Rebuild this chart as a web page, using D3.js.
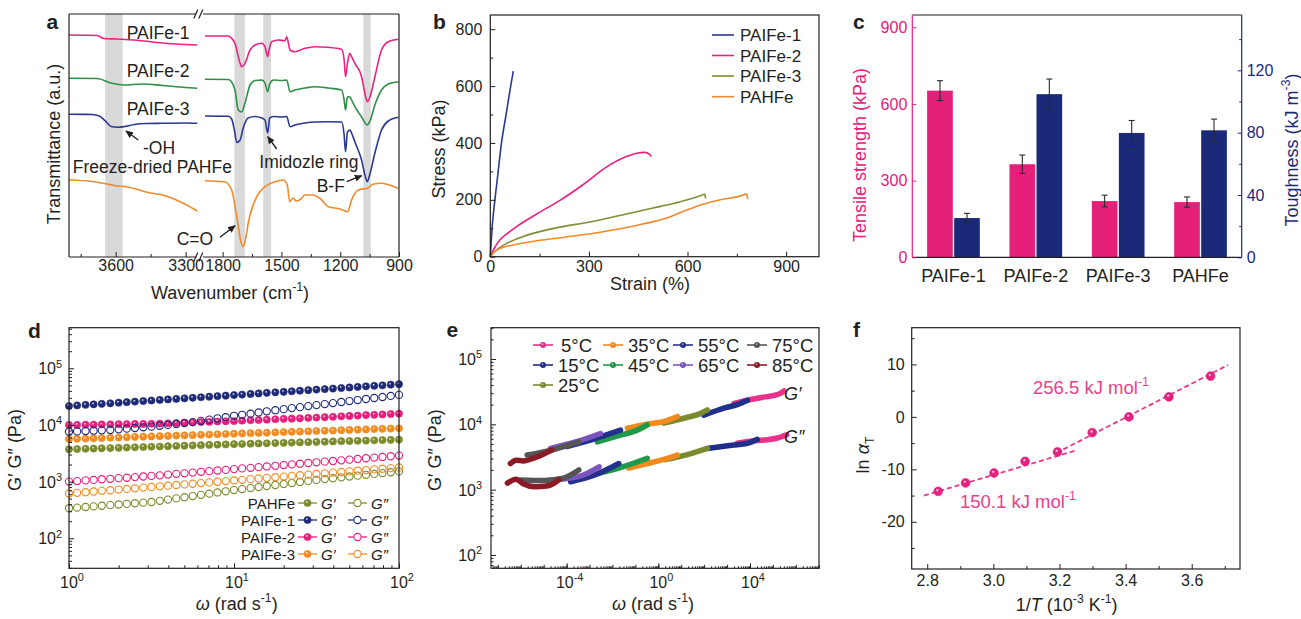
<!DOCTYPE html>
<html>
<head>
<meta charset="utf-8">
<script src="https://cdn.jsdelivr.net/npm/d3@7/dist/d3.min.js"></script>
<style>
  html, body { margin: 0; padding: 0; background: #fff; }
  svg { display: block; font-family: "Liberation Sans", Arial, Helvetica, sans-serif; }
</style>
</head>
<body>
<svg id="fig" width="1301" height="619"></svg>
<script>
// ================= data =================

// (a) FTIR spectra, [wavenumber (cm^-1), transmittance (a.u.)]
const irBands = [[3645, 3570], [1740, 1686], [1593, 1553], [1082, 1044]];
const irPAIFe1Hi = [[3800,222],[3680,221.5],[3650,218.5],[3600,218],[3500,216.5],[3400,214],[3300,212.5],[3250,212]];
const irPAIFe1Lo = [[1890,221],[1771,221],[1754,218.7],[1737,213.7],[1711,193.7],[1703,190.3],[1686,193.7],[1660,207],[1635,212],[1601,213.7],[1584,210.3],[1570,200.3],[1563,207],[1550,215.3],[1516,217],[1482,216.3],[1473,220.3],[1456,207],[1431,205.3],[1380,208.7],[1329,210.3],[1261,209.7],[1193,207.7],[1180,197],[1173,180.3],[1163,193.7],[1151,203.7],[1142,200.3],[1125,193.7],[1091,180.3],[1074,163.7],[1062,155.3],[1048,160.3],[1023,180.3],[989,207],[955,215.3],[904,217.7]];
const irPAIFe2Hi = [[3800,178.7],[3680,178.5],[3620,174],[3570,172],[3480,173],[3400,171.5],[3300,169.5],[3250,168.7]];
const irPAIFe2Lo = [[1890,177.7],[1771,177.5],[1754,175],[1737,167],[1720,147],[1703,145],[1686,154],[1660,172],[1635,176.5],[1600,177],[1584,174],[1570,165.3],[1560,173],[1540,177],[1500,176.5],[1473,177],[1456,165.3],[1431,167],[1380,169],[1330,170.3],[1261,169],[1193,167],[1180,157],[1173,147],[1163,160.3],[1150,160],[1142,157],[1125,150.3],[1091,140],[1062,132],[1048,136],[1023,152],[989,167],[955,173],[904,175.3]];
const irPAIFe3Hi = [[3800,142.7],[3700,142.5],[3670,141],[3640,135],[3620,130.5],[3590,129.7],[3560,130.5],[3520,132.5],[3470,133.5],[3400,133.7],[3300,134],[3250,133.7]];
const irPAIFe3Lo = [[1890,141],[1771,140.7],[1754,138],[1740,127],[1728,114.5],[1711,117],[1695,129],[1670,139],[1635,140.5],[1600,139],[1584,137],[1570,124],[1560,139],[1540,140.5],[1500,140],[1473,140.5],[1456,130.3],[1431,132],[1380,134],[1330,135],[1261,135.3],[1193,135],[1180,122],[1173,105.3],[1163,125],[1150,127],[1142,124],[1125,115],[1091,97],[1070,79],[1062,75.3],[1050,82],[1023,104],[989,127],[955,136],[904,139.7]];
const irPAHFeHi = [[3800,77],[3700,75.5],[3650,73.5],[3600,71.3],[3550,70],[3450,64],[3400,62],[3330,56],[3250,46]];
const irPAHFeLo = [[1890,76.3],[1790,75.3],[1754,67],[1728,40.3],[1705,14],[1695,10.5],[1680,21],[1669,34],[1626,60.3],[1584,70.3],[1533,75.3],[1490,77],[1470,72],[1458,55.3],[1440,59],[1425,56],[1400,58],[1380,62],[1340,62],[1300,58],[1261,50.3],[1200,48],[1162,45.3],[1142,57],[1108,67],[1062,68.7],[1030,73],[989,73.7],[950,72],[904,68.7]];

// (b) stress-strain curves, [strain (%), stress (kPa)]
const ssPAIFe1 = [[0,0],[2,40],[6,110],[14,200],[24,300],[34,400],[48,500],[62,600],[70,653]];
const ssPAIFe2 = [[0,0],[10,25],[29,59],[50,80],[80,106],[141,150],[212,198],[282,253],[353,315],[414,352],[445,364],[470,367],[485,360],[490,352]];
const ssPAIFe3 = [[0,0],[15,20],[50,47],[110,75],[212,104],[303,122],[394,145],[495,171],[560,188],[600,200],[645,217],[652,220],[655,205]];
const ssPAHFe  = [[0,0],[10,15],[29,29],[70,41],[141,56],[242,71],[343,88],[444,110],[546,140],[600,165],[650,185],[700,200],[760,213],[780,220],[783,202]];

// (c) tensile strength (kPa) and toughness (kJ m^-3)
const cCategories = ["PAIFe-1", "PAIFe-2", "PAIFe-3", "PAHFe"];
const cStrength = [652, 364, 220, 216];
const cStrengthErr = [39, 36, 23, 20];
const cToughness = [25.2, 104.7, 79.8, 81.5];
const cToughnessErr = [3, 9.7, 8, 7.2];

// (d) frequency sweeps, omega (rad/s) and moduli (Pa)
const dOmega = [1, 1.12, 1.26, 1.41, 1.58, 1.78, 2.00, 2.24, 2.51, 2.82, 3.16, 3.55, 3.98, 4.47, 5.01, 5.62, 6.31, 7.08, 7.94, 8.91,
  10.0, 11.2, 12.6, 14.1, 15.8, 17.8, 20.0, 22.4, 25.1, 28.2, 31.6, 35.5, 39.8, 44.7, 50.1, 56.2, 63.1, 70.8, 79.4, 89.1, 100];
const dPAHFeGp = [3720,3750,3790,3830,3870,3910,3950,3990,4030,4080,4120,4160,4210,4250,4300,4340,4390,4430,4480,4520,
  4570,4610,4660,4700,4740,4790,4830,4880,4920,4970,5010,5060,5110,5160,5200,5250,5300,5350,5400,5450,5500];
const dPAHFeGpp = [339,348,356,365,375,384,394,404,415,425,436,458,481,505,530,556,583,612,643,674,
  708,738,769,802,836,871,908,946,986,1028,1072,1109,1148,1189,1230,1274,1318,1365,1413,1462,1514];
const dPAIFe1Gp = [21600,22100,22600,23100,23600,24100,24700,25200,25800,26400,27000,27600,28200,28800,29500,30100,30800,31500,32200,32900,
  33700,34400,35200,36000,36800,37600,38400,39300,40200,41100,42000,42900,43900,44900,45900,46900,48000,49000,50100,51300,52400];
const dPAIFe1Gpp = [7590,7690,7800,7910,8020,8130,8360,8590,8830,9080,9330,9680,10000,10400,10800,11200,11800,12400,13100,13700,
  14500,15100,15800,16600,17400,18200,19000,19800,20600,21500,22400,23300,24300,25400,26400,27500,28700,29900,31100,32500,33900];
const dPAIFe2Gp = [10000,10000,10100,10100,10200,10200,10300,10300,10400,10400,10500,10600,10700,10800,11000,11100,11200,11300,11500,11600,
  11700,11900,12100,12200,12400,12600,12800,12900,13100,13300,13500,13700,13900,14200,14400,14600,14900,15100,15300,15600,15800];
const dPAIFe2Gpp = [1000,1020,1050,1070,1100,1120,1150,1170,1200,1230,1260,1290,1330,1370,1400,1440,1490,1530,1570,1610,
  1660,1710,1750,1800,1850,1900,1960,2010,2070,2130,2190,2250,2310,2370,2440,2510,2580,2650,2720,2800,2880];
const dPAIFe3Gp = [5620,5680,5750,5810,5870,5940,6000,6070,6140,6200,6270,6340,6410,6480,6550,6620,6700,6770,6850,6920,
  7000,7080,7150,7230,7310,7390,7480,7560,7640,7730,7810,7900,7980,8070,8160,8250,8340,8440,8530,8620,8710];
const dPAIFe3Gpp = [617,633,650,668,686,704,723,742,762,783,804,825,847,870,893,917,942,967,993,1020,
  1047,1075,1104,1134,1164,1195,1227,1260,1294,1329,1365,1401,1439,1478,1517,1558,1600,1643,1687,1732,1778];

// (e) shifted master curves, [reduced omega (rad/s), modulus (Pa)]
const eTemps = ["5°C", "15°C", "25°C", "35°C", "45°C", "55°C", "65°C", "75°C", "85°C"];
const e5Gp   = [[2.0e3,20900],[7.9e3,23400],[3.2e4,25700],[1.0e5,27500],[2.0e5,29500],[3.0e5,32400]];
const e5Gpp  = [[2.8e3,5130],[1.0e4,5500],[4.0e4,5750],[1.6e5,6170],[4.0e5,6920]];
const e15Gp  = [[98,13800],[794,17800],[3160,20400],[7760,23400]];
const e15Gpp = [[138,4270],[1580,4790],[7940,5130],[2.09e4,5890]];
const e25Gp  = [[1.74,10470],[15.8,12600],[63,14450],[138,16600]];
const e25Gpp = [[2.0,2880],[6.8,3160],[31.6,3630],[138,4270]];
const e35Gp  = [[0.0447,8710],[0.316,10000],[2.0,11200],[6.76,13200]];
const e35Gpp = [[0.05,2140],[0.33,2510],[1.58,2880],[6.76,3390]];
const e45Gp  = [[0.00219,5370],[0.0158,6610],[0.1,7940],[0.33,9770]];
const e45Gpp = [[0.00316,1820],[0.019,2140],[0.33,3020]];
const e55Gp  = [[1.0e-4,4570],[1.1e-3,5750],[0.0224,8130]];
const e55Gpp = [[1.5e-4,1320],[1.6e-3,1660],[0.019,2510]];
const e65Gp  = [[2.0e-5,4270],[2.5e-4,5370],[3.0e-3,7240]];
const e65Gpp = [[2.0e-5,1410],[3.2e-4,1580],[2.6e-3,2240]];
const e75Gp  = [[1.9e-6,3390],[2.5e-5,4070],[3.4e-4,5370]];
const e75Gpp = [[1.0e-6,1410],[1.0e-5,1380],[6.3e-5,1480],[3.4e-4,2000]];
const e85Gp  = [[3.5e-7,2510],[6.3e-7,2820],[1.26e-6,2750],[5.0e-6,3160],[2.3e-5,4070]];
const e85Gpp = [[2.6e-7,1260],[6.3e-7,1440],[1.26e-6,1230],[4.0e-6,1110],[1.6e-5,1150],[4.6e-5,1410]];

// (f) Arrhenius plot of shift factors
const fInvT = [2.833, 2.916, 3.002, 3.096, 3.194, 3.299, 3.410, 3.531, 3.657];
const fLnaT = [-14.2, -12.6, -10.7, -8.47, -6.69, -2.99, 0, 3.82, 7.77];
const fFitLow = [[2.79, -15.0], [3.25, -6.4]];
const fFitHigh = [[3.19, -6.9], [3.71, 9.9]];

// ================= helpers =================
const svg = d3.select("#fig");
const INK = "#231f20";
const defs = svg.append("defs");

function shinyFill(id, color) {
  const g = defs.append("radialGradient").attr("id", id)
    .attr("cx", 0.5).attr("cy", 0.5).attr("r", 0.5).attr("fx", 0.38).attr("fy", 0.32);
  g.append("stop").attr("offset", 0).attr("stop-color", "#ffffff").attr("stop-opacity", 0.95);
  g.append("stop").attr("offset", 0.38).attr("stop-color", color);
  g.append("stop").attr("offset", 1).attr("stop-color", color);
  return `url(#${id})`;
}

defs.append("marker").attr("id", "arrowHead").attr("viewBox", "0 0 10 10")
  .attr("refX", 9).attr("refY", 5).attr("markerWidth", 5.5).attr("markerHeight", 5.5)
  .attr("orient", "auto")
  .append("path").attr("d", "M0,0.5 L10,5 L0,9.5 z").attr("fill", INK);

function rich(sel, parts, size) {
  let shift = 0;
  parts.forEach(p => {
    const [s, st] = typeof p === "string" ? [p, ""] : [p[0], p[1] || ""];
    const ts = sel.append("tspan").text(s);
    let target = 0;
    if (st.includes("^")) { target = -0.42 * size; ts.attr("font-size", (size * 0.68).toFixed(1)); }
    else if (st.includes("_")) { target = 0.28 * size; ts.attr("font-size", (size * 0.68).toFixed(1)); }
    if (st.includes("i")) ts.attr("font-style", "italic");
    if (target !== shift) { ts.attr("dy", (target - shift).toFixed(2)); shift = target; }
  });
  return sel;
}

function label(x, y, parts, o = {}) {
  const size = o.size || 16;
  const t = svg.append("text").attr("x", x).attr("y", y)
    .attr("font-size", size).attr("fill", o.fill || INK)
    .attr("text-anchor", o.anchor || "start");
  if (o.weight) t.attr("font-weight", o.weight);
  if (o.italic) t.attr("font-style", "italic");
  if (o.rotate) t.attr("transform", `rotate(-90 ${x} ${y})`);
  rich(t, typeof parts === "string" ? [parts] : parts, size);
  return t;
}

function axisG(axisFn, scale, values, len, at, o = {}) {
  const gen = axisFn(scale).tickValues(values).tickSize(-len).tickPadding(o.pad ?? 4)
    .tickFormat(o.fmt ? o.fmt : () => "");
  const g = svg.append("g").attr("transform", at).call(gen);
  g.attr("font-size", o.size || 16).attr("font-family", null);
  g.select(".domain").remove();
  g.selectAll(".tick line").attr("stroke", o.tick || INK).attr("stroke-width", 1);
  g.selectAll(".tick text").attr("fill", o.color || INK);
  return g;
}

function frame(x0, y0, x1, y1) {
  svg.append("rect").attr("x", x0).attr("y", y0).attr("width", x1 - x0).attr("height", y1 - y0)
    .attr("fill", "none").attr("stroke", INK).attr("stroke-width", 1.2);
}

function logMinors(lo, hi) {
  const out = [];
  for (let k = Math.floor(Math.log10(lo)); k <= Math.ceil(Math.log10(hi)); k++)
    for (let m = 2; m <= 9; m++) { const v = m * Math.pow(10, k); if (v > lo && v < hi) out.push(v); }
  return out;
}

const hyphenFmt = d => (d < 0 ? "-" + Math.abs(d) : String(d));

// ================= (a) FTIR =================
{
  const x0 = 69, x1 = 399, yT = 14, yB = 257, brk0 = 197.3, brk1 = 205;
  const xHi = d3.scaleLinear().domain([3800, 3250]).range([x0, brk0]);
  const xLo = d3.scaleLinear().domain([1890, 900]).range([brk1, x1]);
  const yA = d3.scaleLinear().domain([0, 243]).range([yB, yT]);

  irBands.forEach(([c0, c1]) => {
    const s = c0 > 3000 ? xHi : xLo;
    svg.append("rect").attr("x", s(c0)).attr("width", s(c1) - s(c0))
      .attr("y", yT).attr("height", yB - yT).attr("fill", "#d9d9d9");
  });

  const spectra = [
    [irPAIFe1Hi, irPAIFe1Lo, "#e8237f"],
    [irPAIFe2Hi, irPAIFe2Lo, "#2f8f46"],
    [irPAIFe3Hi, irPAIFe3Lo, "#2a3990"],
    [irPAHFeHi, irPAHFeLo, "#f08a2e"]
  ];
  const lineFor = sx => d3.line().x(d => sx(d[0])).y(d => yA(d[1])).curve(d3.curveMonotoneX);
  spectra.forEach(([hi, lo, col]) => {
    svg.append("path").attr("d", lineFor(xHi)(hi)).attr("fill", "none").attr("stroke", col).attr("stroke-width", 1.6);
    svg.append("path").attr("d", lineFor(xLo)(lo)).attr("fill", "none").attr("stroke", col).attr("stroke-width", 1.6);
  });

  // broken frame
  const fl = (a, b, c, d) => svg.append("line").attr("x1", a).attr("y1", b).attr("x2", c).attr("y2", d)
    .attr("stroke", INK).attr("stroke-width", 1.2);
  fl(x0, yT, x0, yB); fl(x1, yT, x1, yB);
  fl(x0, yT, brk0 - 1, yT); fl(brk1 - 2, yT, x1, yT);
  fl(x0, yB, brk0 - 1, yB); fl(brk1 - 2, yB, x1, yB);
  [yT, yB].forEach(yy => {
    fl(brk0 - 3.5, yy + 4.5, brk0 + 0.5, yy - 4.5);
    fl(brk0 + 1.5, yy + 4.5, brk0 + 5.5, yy - 4.5);
  });

  axisG(d3.axisBottom, xHi, [3600, 3300], 5, `translate(0,${yB})`, { fmt: d3.format("d"), pad: 3 });
  axisG(d3.axisBottom, xHi, [3750, 3450], 3, `translate(0,${yB})`);
  axisG(d3.axisBottom, xLo, [1800, 1500, 1200, 900], 5, `translate(0,${yB})`, { fmt: d3.format("d"), pad: 3 });
  axisG(d3.axisBottom, xLo, [1650, 1350, 1050], 3, `translate(0,${yB})`);

  const fs = 17.5;
  label(126.7, 38.5, "PAIFe-1", { size: fs });
  label(126.7, 77.3, "PAIFe-2", { size: fs });
  label(126.7, 115, "PAIFe-3", { size: fs });
  label(143, 154, "-OH", { size: fs });
  label(72.7, 173.3, "Freeze-dried PAHFe", { size: fs });
  label(259.3, 168.3, "Imidozle ring", { size: fs });
  label(316.7, 191.7, "B-F", { size: fs });
  label(176.7, 245, "C=O", { size: fs });

  const arrow = (a, b, c, d) => svg.append("line").attr("x1", a).attr("y1", b).attr("x2", c).attr("y2", d)
    .attr("stroke", INK).attr("stroke-width", 1.4).attr("marker-end", "url(#arrowHead)");
  arrow(138.3, 140, 126, 131);
  arrow(276.7, 149, 267.7, 136.7);
  arrow(346.7, 181.7, 361.7, 175.7);
  arrow(220, 237.3, 235, 225.7);

  label(60, 144, "Transmittance (a.u.)", { size: 18, anchor: "middle", rotate: true });
  label(230, 299, ["Wavenumber (cm", ["-1", "^"], ")"], { size: 18, anchor: "middle" });
  label(46.5, 28.5, "a", { size: 21, weight: "bold" });
}

// ================= (b) stress-strain =================
{
  const x0 = 490.3, x1 = 819, yT = 15, yB = 256.7;
  const xB = d3.scaleLinear().domain([0, 1000]).range([x0, x1]);
  const yS = d3.scaleLinear().domain([0, 850]).range([yB, yT]);
  const series = [
    ["PAIFe-1", ssPAIFe1, "#2b3990"],
    ["PAIFe-2", ssPAIFe2, "#e6217f"],
    ["PAIFe-3", ssPAIFe3, "#7f8f35"],
    ["PAHFe", ssPAHFe, "#f0892b"]
  ];
  const line = d3.line().x(d => xB(d[0])).y(d => yS(d[1])).curve(d3.curveMonotoneX);
  series.forEach(([, data, col]) => {
    svg.append("path").attr("d", line(data)).attr("fill", "none").attr("stroke", col)
      .attr("stroke-width", 1.6).attr("stroke-linejoin", "round");
  });
  axisG(d3.axisBottom, xB, [0, 300, 600, 900], 5, `translate(0,${yB})`, { fmt: d3.format("d"), pad: 4 });
  axisG(d3.axisBottom, xB, [150, 450, 750], 3, `translate(0,${yB})`);
  axisG(d3.axisLeft, yS, [0, 200, 400, 600, 800], 5, `translate(${x0},0)`, { fmt: d3.format("d"), pad: 8 });
  axisG(d3.axisLeft, yS, [100, 300, 500, 700], 3, `translate(${x0},0)`);
  frame(x0, yT, x1, yB);

  series.forEach(([name, , col], i) => {
    const y = [35, 55.5, 76, 96.7][i];
    svg.append("line").attr("x1", 712).attr("x2", 734).attr("y1", y).attr("y2", y)
      .attr("stroke", col).attr("stroke-width", 1.6);
    label(740, y + 6, name, { size: 17 });
  });

  label(444.5, 149, "Stress (kPa)", { size: 18, anchor: "middle", rotate: true });
  label(650, 290, "Strain (%)", { size: 18, anchor: "middle" });
  label(433, 29, "b", { size: 21, weight: "bold" });
}

// ================= (c) bars =================
{
  const x0 = 912.3, x1 = 1241.7, yT = 15, yB = 257.3;
  const PINK = "#e5207a", NAVY = "#1b2a78";
  const xC = d3.scaleBand().domain(cCategories).range([x0, x1]).paddingInner(0.36).paddingOuter(0.18);
  const xSub = d3.scaleBand().domain(["strength", "toughness"]).range([0, xC.bandwidth()]).paddingInner(0.05);
  const yL = d3.scaleLinear().domain([0, 948]).range([yB, yT]);
  const yR = d3.scaleLinear().domain([0, 155.5]).range([yB, yT]);

  const groups = [
    ["strength", cStrength, cStrengthErr, yL, PINK],
    ["toughness", cToughness, cToughnessErr, yR, NAVY]
  ];
  groups.forEach(([key, vals, errs, ys, col]) => {
    cCategories.forEach((cat, i) => {
      const bx = xC(cat) + xSub(key), bw = xSub.bandwidth();
      svg.append("rect").attr("x", bx).attr("y", ys(vals[i])).attr("width", bw)
        .attr("height", yB - ys(vals[i])).attr("fill", col);
      const cx = bx + bw / 2, ylo = ys(vals[i] - errs[i]), yhi = ys(vals[i] + errs[i]);
      const g = svg.append("g").attr("stroke", "#2a2a2a").attr("stroke-width", 1.1);
      g.append("line").attr("x1", cx).attr("x2", cx).attr("y1", ylo).attr("y2", yhi);
      g.append("line").attr("x1", cx - 3).attr("x2", cx + 3).attr("y1", ylo).attr("y2", ylo);
      g.append("line").attr("x1", cx - 3).attr("x2", cx + 3).attr("y1", yhi).attr("y2", yhi);
    });
  });

  // frame: black top and bottom, coloured side axes
  const ln = (a, b, c, d, col) => svg.append("line").attr("x1", a).attr("y1", b).attr("x2", c).attr("y2", d)
    .attr("stroke", col).attr("stroke-width", 1.2);
  ln(x0, yT, x1, yT, INK);
  ln(x0, yB, x1, yB, INK);
  ln(x0, yT, x0, yB, PINK);
  ln(x1, yT, x1, yB, NAVY);

  axisG(d3.axisLeft, yL, [0, 300, 600, 900], 4, `translate(${x0},0)`, { fmt: d3.format("d"), pad: 5, tick: PINK, color: PINK });
  axisG(d3.axisRight, yR, [0, 40, 80, 120], 4, `translate(${x1},0)`, { fmt: d3.format("d"), pad: 5, tick: NAVY, color: NAVY });
  axisG(d3.axisRight, yR, [20, 60, 100, 140], 2.5, `translate(${x1},0)`, { tick: NAVY });

  cCategories.forEach(cat => label(xC(cat) + xC.bandwidth() / 2, 281.7, cat, { size: 18, anchor: "middle" }));

  label(865.5, 155, "Tensile strength (kPa)", { size: 18, anchor: "middle", rotate: true, fill: PINK });
  label(1298, 150, ["Toughness (kJ m", ["-3", "^"], ")"], { size: 18, anchor: "middle", rotate: true, fill: NAVY });
  label(853, 28.5, "c", { size: 21, weight: "bold" });
}

// ================= (d) frequency sweeps =================
{
  const x0 = 69, x1 = 399, yT = 327.7, yB = 568.3;
  const xD = d3.scaleLog().domain([1, 100]).range([x0, x1]);
  const yD = d3.scaleLog().domain([29.5, 5.2e5]).range([yB, yT]);
  const OLIVE = "#7b8b2b", NAVY = "#1e2a78", PINK = "#e61e7c", ORANGE = "#f28b20";
  const sets = [
    ["PAHFe", dPAHFeGp, dPAHFeGpp, OLIVE, "dOl"],
    ["PAIFe-1", dPAIFe1Gp, dPAIFe1Gpp, NAVY, "dNv"],
    ["PAIFe-2", dPAIFe2Gp, dPAIFe2Gpp, PINK, "dPk"],
    ["PAIFe-3", dPAIFe3Gp, dPAIFe3Gpp, ORANGE, "dOr"]
  ];
  const fills = sets.map(s => shinyFill(s[4], s[3]));
  const r = 3.6;
  sets.forEach(([, gp, , col], k) => {
    svg.append("g").selectAll("circle").data(dOmega).join("circle")
      .attr("cx", d => xD(d)).attr("cy", (d, i) => yD(gp[i])).attr("r", r)
      .attr("fill", fills[k]).attr("stroke", col).attr("stroke-width", 0.6);
  });
  sets.forEach(([, , gpp, col]) => {
    svg.append("g").selectAll("circle").data(dOmega).join("circle")
      .attr("cx", d => xD(d)).attr("cy", (d, i) => yD(gpp[i])).attr("r", r)
      .attr("fill", "none").attr("stroke", col).attr("stroke-width", 1.1);
  });

  axisG(d3.axisBottom, xD, [1, 10, 100], 5, `translate(0,${yB})`);
  axisG(d3.axisBottom, xD, logMinors(1, 100), 3, `translate(0,${yB})`);
  axisG(d3.axisLeft, yD, [100, 1000, 1e4, 1e5], 5, `translate(${x0},0)`);
  axisG(d3.axisLeft, yD, logMinors(29.5, 5.2e5), 3, `translate(${x0},0)`);
  frame(x0, yT, x1, yB);

  [[1, 0], [10, 1], [100, 2]].forEach(([v, e]) => label(xD(v) + 3, 588, ["10", [String(e), "^"]], { anchor: "middle" }));
  [[100, 2], [1000, 3], [1e4, 4], [1e5, 5]].forEach(([v, e]) => label(62, yD(v) + 6, ["10", [String(e), "^"]], { anchor: "end" }));

  // legend
  sets.forEach(([name, , , col], i) => {
    const y = 503 + i * 17;
    label(295, y + 5.5, name, { size: 15, anchor: "end" });
    [[298, 317, true], [348, 367, false]].forEach(([a, b, filled]) => {
      svg.append("line").attr("x1", a).attr("x2", b).attr("y1", y).attr("y2", y)
        .attr("stroke", col).attr("stroke-width", 1.3);
      svg.append("circle").attr("cx", (a + b) / 2).attr("cy", y).attr("r", r)
        .attr("fill", filled ? fills[i] : "#fff").attr("stroke", col).attr("stroke-width", filled ? 0.6 : 1.1);
    });
    label(321, y + 5.5, "G′", { size: 15, italic: true });
    label(371, y + 5.5, "G″", { size: 15, italic: true });
  });

  label(21, 450, "G′ G″ (Pa)", { size: 18, anchor: "middle", rotate: true });
  label(236.7, 610, [["ω", "i"], " (rad s", ["-1", "^"], ")"], { size: 18, anchor: "middle" });
  label(28, 338, "d", { size: 21, weight: "bold" });
}

// ================= (e) master curves =================
{
  const x0 = 491, x1 = 819, yT = 327.7, yB = 568.3;
  const xE = d3.scaleLog().domain([Math.pow(10, -7.3), Math.pow(10, 7.01)]).range([x0, x1]);
  const yE = d3.scaleLog().domain([Math.pow(10, 1.796), Math.pow(10, 5.479)]).range([yB, yT]);
  const eColors = ["#e8318a", "#1f2f8a", "#7b8a2e", "#f28a1e", "#1e9a4a", "#23318c", "#7a55c0", "#555555", "#8b1a24"];
  const eGp = [e5Gp, e15Gp, e25Gp, e35Gp, e45Gp, e55Gp, e65Gp, e75Gp, e85Gp];
  const eGpp = [e5Gpp, e15Gpp, e25Gpp, e35Gpp, e45Gpp, e55Gpp, e65Gpp, e75Gpp, e85Gpp];
  const line = d3.line().x(d => xE(d[0])).y(d => yE(d[1])).curve(d3.curveMonotoneX);
  eTemps.forEach((t, i) => {
    [eGp[i], eGpp[i]].forEach(seg => {
      svg.append("path").attr("d", line(seg)).attr("fill", "none").attr("stroke", eColors[i])
        .attr("stroke-width", 5.5).attr("stroke-linecap", "round").attr("stroke-linejoin", "round");
    });
  });

  const decades = d3.range(-7, 8).map(k => Math.pow(10, k));
  axisG(d3.axisBottom, xE, [1e-4, 1, 1e4], 5, `translate(0,${yB})`);
  axisG(d3.axisBottom, xE, decades, 3.5, `translate(0,${yB})`);
  axisG(d3.axisBottom, xE, logMinors(Math.pow(10, -7.3), Math.pow(10, 7.01)), 2, `translate(0,${yB})`);
  axisG(d3.axisLeft, yE, [100, 1000, 1e4, 1e5], 5, `translate(${x0},0)`);
  axisG(d3.axisLeft, yE, logMinors(Math.pow(10, 1.796), Math.pow(10, 5.479)), 2.5, `translate(${x0},0)`);
  frame(x0, yT, x1, yB);

  [[1e-4, -4], [1, 0], [1e4, 4]].forEach(([v, e]) => label(xE(v) + 3, 588, ["10", [String(e), "^"]], { anchor: "middle" }));
  [[100, 2], [1000, 3], [1e4, 4], [1e5, 5]].forEach(([v, e]) => label(482, yE(v) + 6, ["10", [String(e), "^"]], { anchor: "end" }));

  // legend, 4 columns
  const colX = [533, 603, 673, 747];
  const legendPos = [[0, 0], [0, 1], [0, 2], [1, 0], [1, 1], [2, 0], [2, 1], [3, 0], [3, 1]];
  eTemps.forEach((t, i) => {
    const [c, row] = legendPos[i];
    const y = 345 + row * 20, a = colX[c], b = a + 20;
    svg.append("line").attr("x1", a).attr("x2", b).attr("y1", y).attr("y2", y)
      .attr("stroke", eColors[i]).attr("stroke-width", 1.6);
    svg.append("circle").attr("cx", a + 10).attr("cy", y).attr("r", 3)
      .attr("fill", shinyFill("eLeg" + i, eColors[i]));
    label(b + (t.length < 4 ? 8 : 5), y + 6.5, t, { size: 18.5 });
  });

  label(784, 399.5, "G′", { size: 18, italic: true });
  label(784, 443, "G″", { size: 18, italic: true });
  label(441, 450, "G′ G″ (Pa)", { size: 18, anchor: "middle", rotate: true });
  label(653, 610, [["ω", "i"], " (rad s", ["-1", "^"], ")"], { size: 18, anchor: "middle" });
  label(446.5, 337, "e", { size: 21, weight: "bold" });
}

// ================= (f) Arrhenius =================
{
  const x0 = 911.7, x1 = 1240, yT = 327.7, yB = 569;
  const PINK = "#e6217f";
  const xF = d3.scaleLinear().domain([2.753, 3.746]).range([x0, x1]);
  const yF = d3.scaleLinear().domain([-29, 17]).range([yB, yT]);
  const line = d3.line().x(d => xF(d[0])).y(d => yF(d[1]));
  [fFitLow, fFitHigh].forEach(seg => {
    svg.append("path").attr("d", line(seg)).attr("fill", "none").attr("stroke", "#e83a8c")
      .attr("stroke-width", 1.8).attr("stroke-dasharray", "5,3");
  });
  const fill = shinyFill("fPk", PINK);
  svg.append("g").selectAll("circle").data(fInvT).join("circle")
    .attr("cx", d => xF(d)).attr("cy", (d, i) => yF(fLnaT[i])).attr("r", 4.4)
    .attr("fill", fill).attr("stroke", "#d81a72").attr("stroke-width", 0.6);

  axisG(d3.axisBottom, xF, [2.8, 3.0, 3.2, 3.4, 3.6], 5, `translate(0,${yB})`, { fmt: d3.format(".1f"), pad: 6 });
  axisG(d3.axisBottom, xF, [2.9, 3.1, 3.3, 3.5, 3.7], 3, `translate(0,${yB})`);
  axisG(d3.axisLeft, yF, [-20, -10, 0, 10], 5, `translate(${x0},0)`, { fmt: hyphenFmt, pad: 7 });
  axisG(d3.axisLeft, yF, [-25, -15, -5, 5, 15], 3, `translate(${x0},0)`);
  frame(x0, yT, x1, yB);

  label(1033, 394, ["256.5 kJ mol", ["-1", "^"]], { size: 18.5, fill: "#e8418c" });
  label(960, 508, ["150.1 kJ mol", ["-1", "^"]], { size: 18.5, fill: "#e8418c" });

  label(869, 455, ["ln ", ["α", "i"], ["T", "_"]], { size: 18, anchor: "middle", rotate: true });
  label(1066.7, 611, ["1/", ["T", "i"], " (10", ["-3", "^"], " K", ["-1", "^"], ")"], { size: 18, anchor: "middle" });
  label(853, 337, "f", { size: 21, weight: "bold" });
}
</script>
</body>
</html>
